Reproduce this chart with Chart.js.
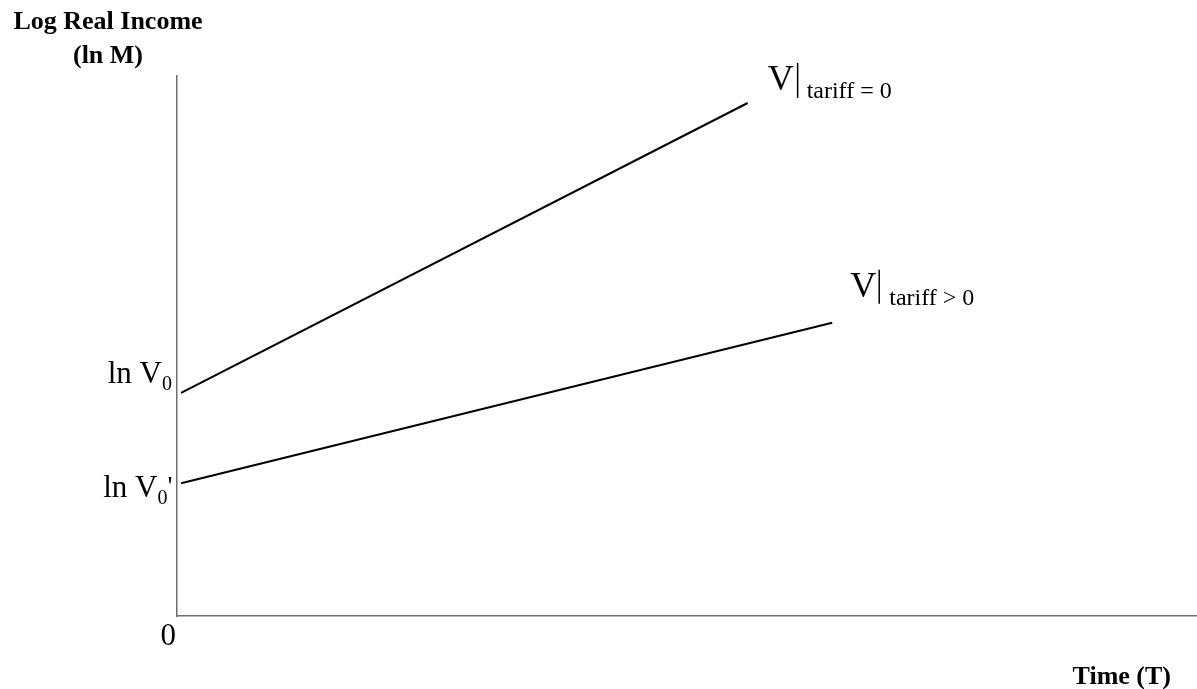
<!DOCTYPE html>
<html>
<head>
<meta charset="utf-8">
<title>Log Real Income over Time</title>
<script src="https://cdn.jsdelivr.net/npm/chart.js@4/dist/chart.umd.min.js"></script>
<style>
  html, body { margin: 0; padding: 0; background: #fff; }
  #wrap { position: relative; width: 1197px; height: 689px; }
</style>
</head>
<body>
<div id="wrap"><canvas id="incomeChart"></canvas></div>
<script>
// values (axis units 0..100 on both scales)
const timeNoTariff = [0.4, 56.0];
const incomeNoTariff = [41.3, 95.0];
const timeTariff = [0.4, 64.3];
const incomeTariff = [24.6, 54.3];

const yAxisTitle = ['Log Real Income', '(ln M)'];
const xAxisTitle = 'Time (T)';
const originLabel = '0';
const interceptLabels = ['ln V', 'ln V'];
const interceptSubs = ['0', '0'];
const interceptPrimes = ['', "'"];
const curveSubs = ['tariff = 0', 'tariff > 0'];

const SERIF = '"Liberation Serif", "Times New Roman", serif';

function toPoints(xs, ys) {
  return xs.map((x, i) => ({ x: x, y: ys[i] }));
}

// draws the labels that sit around the plot
const labelPlugin = {
  id: 'labels',
  afterDraw(chart) {
    const ctx = chart.ctx;
    const xs = chart.scales.x;
    const ys = chart.scales.y;
    ctx.save();
    ctx.fillStyle = '#000';
    ctx.textBaseline = 'alphabetic';

    // y axis title
    ctx.font = 'bold 26px ' + SERIF;
    ctx.textAlign = 'center';
    ctx.fillText(yAxisTitle[0], 108, 29);
    ctx.fillText(yAxisTitle[1], 108, 63);

    // x axis title
    ctx.font = 'bold 26px ' + SERIF;
    ctx.textAlign = 'right';
    ctx.fillText(xAxisTitle, 1171, 684);

    // origin
    ctx.font = '31px ' + SERIF;
    ctx.textAlign = 'right';
    ctx.fillText(originLabel, xs.getPixelForValue(0) - 1, 645);

    // intercept labels next to the y axis
    const startYs = [incomeNoTariff[0], incomeTariff[0]];
    const baseOffsets = [-10, 14];
    interceptLabels.forEach((txt, i) => {
      const base = ys.getPixelForValue(startYs[i]) + baseOffsets[i];
      ctx.font = '20px ' + SERIF;
      const subW = ctx.measureText(interceptSubs[i]).width;
      const primeW = interceptPrimes[i] ? ctx.measureText(interceptPrimes[i]).width + 1 : 0;
      const right = xs.getPixelForValue(0) - 5;
      ctx.textAlign = 'left';
      const subX = right - primeW - subW;
      ctx.fillText(interceptSubs[i], subX, base + 7);
      if (interceptPrimes[i]) {
        ctx.font = '28px ' + SERIF;
        ctx.fillText(interceptPrimes[i], subX + subW, base - 2);
      }
      ctx.font = '31px ' + SERIF;
      ctx.textAlign = 'right';
      ctx.fillText(txt, subX, base);
    });

    // curve labels: V | sub
    const ends = [
      { x: timeNoTariff[1], y: incomeNoTariff[1], dx: 20, dy: -13, bar: 30, sub: 39, top: -40, bot: -5, subDy: -5 },
      { x: timeTariff[1], y: incomeTariff[1], dx: 18, dy: -26, bar: 29, sub: 39, top: -53, bot: -19, subDy: -18 }
    ];
    ends.forEach((e, i) => {
      const px = xs.getPixelForValue(e.x);
      const py = ys.getPixelForValue(e.y);
      ctx.font = '36px ' + SERIF;
      ctx.textAlign = 'left';
      ctx.fillText('V', px + e.dx, py + e.dy);
      ctx.strokeStyle = '#000';
      ctx.lineWidth = 1.5;
      ctx.beginPath();
      ctx.moveTo(px + e.dx + e.bar, py + e.top);
      ctx.lineTo(px + e.dx + e.bar, py + e.bot);
      ctx.stroke();
      ctx.font = '24px ' + SERIF;
      ctx.fillText(curveSubs[i], px + e.dx + e.sub, py + e.subDy);
    });
    ctx.restore();
  }
};

new Chart(document.getElementById('incomeChart').getContext('2d'), {
  type: 'scatter',
  data: {
    datasets: [
      {
        label: 'V tariff = 0',
        data: toPoints(timeNoTariff, incomeNoTariff),
        showLine: true,
        borderColor: '#000',
        borderWidth: 2,
        pointRadius: 0,
        pointHoverRadius: 0
      },
      {
        label: 'V tariff > 0',
        data: toPoints(timeTariff, incomeTariff),
        showLine: true,
        borderColor: '#000',
        borderWidth: 2,
        pointRadius: 0,
        pointHoverRadius: 0
      }
    ]
  },
  options: {
    responsive: true,
    maintainAspectRatio: false,
    animation: false,
    layout: { padding: { left: 177, top: 76, right: 1, bottom: 73 } },
    plugins: {
      legend: { display: false },
      tooltip: { enabled: false }
    },
    scales: {
      x: {
        type: 'linear',
        min: 0,
        max: 100,
        ticks: { display: false },
        grid: { display: false, drawTicks: false, tickLength: 0 },
        border: { display: true, color: '#6f6f6f', width: 1.5 }
      },
      y: {
        type: 'linear',
        min: 0,
        max: 100,
        ticks: { display: false },
        grid: { display: false, drawTicks: false, tickLength: 0 },
        border: { display: true, color: '#6f6f6f', width: 1.5 }
      }
    }
  },
  plugins: [labelPlugin]
});
</script>
</body>
</html>
